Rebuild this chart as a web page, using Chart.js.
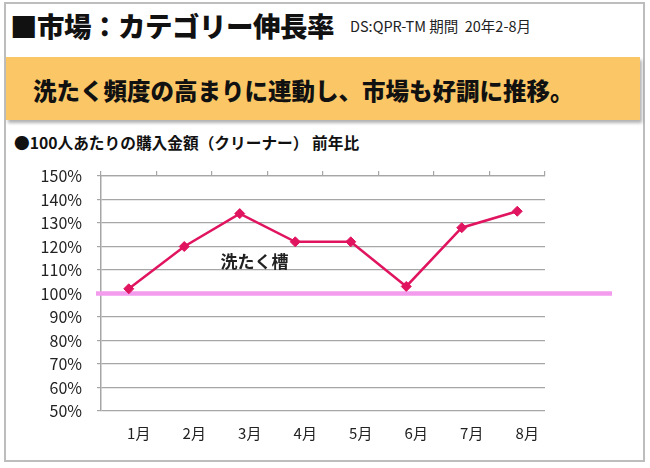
<!DOCTYPE html>
<html><head><meta charset="utf-8">
<script src="https://cdn.jsdelivr.net/npm/chart.js@4.4.0/dist/chart.umd.min.js"></script>
<style>
html,body{margin:0;padding:0;background:#fff;width:650px;height:468px;overflow:hidden;font-family:"Noto Sans CJK JP","Noto Sans",sans-serif;}
#frame{position:absolute;left:4px;top:2px;width:637px;height:456px;border:2px solid #BDBDBD;}
#title{position:absolute;left:10px;top:5px;font-size:27.5px;font-weight:900;color:#111;line-height:40px;white-space:nowrap;letter-spacing:-0.5px;}
#sub{position:absolute;left:350px;top:15px;font-size:14.5px;color:#222;line-height:22px;white-space:nowrap;}
#banner{position:absolute;left:6px;top:57px;width:634px;height:63px;background:#FBC766;box-shadow:2px 3px 3px rgba(0,0,0,0.3);}
#head{position:absolute;left:33px;top:74px;font-size:23.5px;font-weight:900;color:#111;line-height:32px;white-space:nowrap;}
#sec{position:absolute;left:14px;top:133px;font-size:15.7px;font-weight:bold;color:#111;line-height:20px;white-space:nowrap;}
canvas{position:absolute;left:0;top:0;}
</style></head>
<body>
<div id="frame"></div>
<div id="title">■市場：カテゴリー伸長率</div>
<div id="sub">DS:QPR-TM 期間&nbsp;&nbsp;20年2-8月</div>
<div id="banner"></div>
<div id="head">洗たく頻度の高まりに連動し、市場も好調に推移。</div>
<div id="sec">●100人あたりの購入金額（クリーナー） 前年比</div>
<canvas id="c" width="650" height="468"></canvas>
<script>
const categories = ["1月","2月","3月","4月","5月","6月","7月","8月"];
const seriesName = "洗たく槽";
const seriesValues = [102, 120, 134, 122, 122, 103, 128, 135];
const baselineValue = 100;
const yMin = 50, yMax = 150, yStep = 10;

const baselinePlugin = {
  id: 'baseline',
  beforeDatasetsDraw(chart) {
    const {ctx, chartArea, scales} = chart;
    const y = scales.y.getPixelForValue(baselineValue);
    ctx.save();
    ctx.strokeStyle = '#F39CEE';
    ctx.lineWidth = 4.5;
    ctx.beginPath();
    ctx.moveTo(chartArea.left - 5, y);
    ctx.lineTo(chartArea.right + 67, y);
    ctx.stroke();
    ctx.restore();
  }
};
const labelPlugin = {
  id: 'serieslabel',
  afterDatasetsDraw(chart) {
    const {ctx, scales} = chart;
    const x = (scales.x.getPixelForValue(2) + scales.x.getPixelForValue(3)) / 2 - 13;
    const y = scales.y.getPixelForValue(113.5);
    ctx.save();
    ctx.font = 'bold 17px "Noto Sans CJK JP"';
    ctx.fillStyle = '#222';
    ctx.textAlign = 'center';
    ctx.textBaseline = 'middle';
    ctx.fillText(seriesName, x, y);
    ctx.restore();
  }
};

new Chart(document.getElementById('c'), {
  type: 'line',
  data: {
    labels: categories,
    datasets: [{
      label: seriesName,
      data: seriesValues,
      borderColor: '#E0145F',
      backgroundColor: '#E0145F',
      borderWidth: 2.5,
      pointStyle: 'rectRot',
      pointRadius: 5,
      pointBorderWidth: 1,
      tension: 0,
      xAxisID: 'x'
    }]
  },
  options: {
    responsive: false,
    animation: false,
    events: [],
    layout: {padding: {left: 0, top: 171, right: 105, bottom: 0}},
    plugins: {legend: {display: false}, tooltip: {enabled: false}, title: {display: false}},
    scales: {
      x: {
        type: 'category',
        position: 'bottom',
        offset: true,
        grid: {display: false},
        border: {display: false},
        ticks: {font: {family: '"Noto Sans CJK JP"', size: 15}, color: '#222', padding: 5, labelOffset: 10, maxRotation: 0},
        afterFit(s) { s.height = 57; }
      },
      x2: {
        type: 'category',
        labels: categories,
        position: 'top',
        offset: true,
        grid: {offset: true, drawOnChartArea: false, drawTicks: true, tickLength: 5, color: '#A6A6A6', lineWidth: 1.2},
        border: {display: true, color: '#A6A6A6', width: 1.2},
        ticks: {display: false},
        afterFit(s) { s.height = 5; }
      },
      y: {
        min: yMin, max: yMax,
        ticks: {stepSize: yStep, callback: v => v + '%', font: {family: '"Noto Sans CJK JP"', size: 16}, color: '#222', padding: 15},
        grid: {color: '#A6A6A6', lineWidth: 1.2, tickLength: 4},
        border: {color: '#A6A6A6', width: 1.5},
        afterFit(s) { s.width = 101; }
      }
    }
  },
  plugins: [baselinePlugin, labelPlugin]
});
</script>
</body></html>
